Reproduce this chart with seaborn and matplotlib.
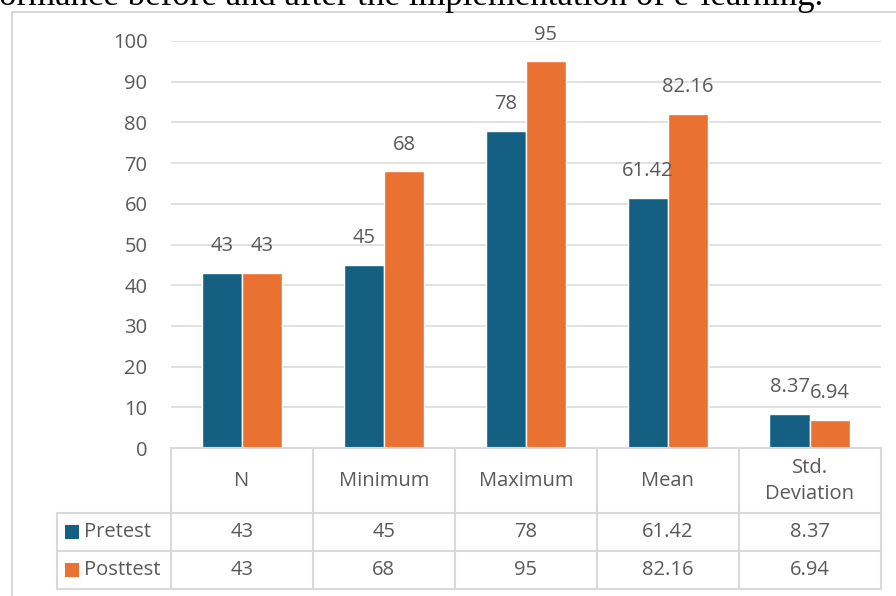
import pandas as pd
import seaborn as sns
import matplotlib.pyplot as plt
from matplotlib.patches import Rectangle
from matplotlib.transforms import blended_transform_factory

# Data
stats = ["N", "Minimum", "Maximum", "Mean", "Std.\nDeviation"]
pretest = [43, 45, 78, 61.42, 8.37]
posttest = [43, 68, 95, 82.16, 6.94]
groups = ["Pretest", "Posttest"]
colors = ["#156082", "#E97132"]
title = "performance before and after the implementation of e-learning."

df = pd.DataFrame({
    "stat": stats * 2,
    "value": pretest + posttest,
    "group": [groups[0]] * len(stats) + [groups[1]] * len(stats),
})

sns.set_style("white")
plt.rcParams["font.family"] = ["Open Sans", "DejaVu Sans"]
TXT = "#595959"
LINE = "#D9D9D9"
FS = 14.5

W, H = 896, 596
fig = plt.figure(figsize=(W / 100, H / 100), dpi=100)


def fx(px):
    return px / W


def fy(py):
    return 1 - py / H


# Main plot area (pixel positions of the reference)
ax = fig.add_axes([fx(171), fy(448), fx(880.5) - fx(171), fy(41) - fy(448)])
sns.barplot(data=df, x="stat", y="value", hue="group", palette=colors,
            width=0.565, gap=0, saturation=1, legend=False, ax=ax)

ax.set_ylim(0, 100)
ax.set_xlim(-0.5, len(stats) - 0.5)
ax.set_yticks(range(0, 101, 10))
ax.yaxis.grid(True, color=LINE, linewidth=1.1)
ax.set_axisbelow(True)
sns.despine(ax=ax, left=True, bottom=True)
ax.tick_params(axis="y", length=0, pad=17, labelsize=FS, labelcolor=TXT)
ax.tick_params(axis="x", bottom=False, labelbottom=False)
ax.set_xlabel("")
ax.set_ylabel("")

# Bar labels
for cont, vals in zip(ax.containers, [pretest, posttest]):
    ax.bar_label(cont, labels=[f"{v:g}" for v in vals], padding=12,
                 fontsize=FS, color=TXT, clip_on=False)

# Data table under the chart
tr = blended_transform_factory(ax.transData, fig.transFigure)
n = len(stats)
left_edge, right_edge = -0.5, n - 0.5
y_top, y_head, y_mid, y_bot = 448, 513, 551, 589
lw = 1.5

ax.plot([left_edge, right_edge], [fy(y_top)] * 2, color=LINE, lw=lw,
        transform=tr, clip_on=False)
for i in range(n + 1):
    ax.plot([i - 0.5] * 2, [fy(y_top), fy(y_bot)], color=LINE, lw=lw,
            transform=tr, clip_on=False)
for yy in [y_head, y_mid, y_bot]:
    fig.add_artist(plt.Line2D([fx(57), fx(171)], [fy(yy)] * 2, color=LINE, lw=lw))
    ax.plot([left_edge, right_edge], [fy(yy)] * 2, color=LINE, lw=lw,
            transform=tr, clip_on=False)
fig.add_artist(plt.Line2D([fx(57)] * 2, [fy(y_head), fy(y_bot)], color=LINE, lw=lw))

for i, s in enumerate(stats):
    ax.text(i, fy(481), s, ha="center", va="center", fontsize=FS, color=TXT,
            linespacing=1.45, transform=tr)
    ax.text(i, fy(532), f"{pretest[i]:g}", ha="center", va="center",
            fontsize=FS, color=TXT, transform=tr)
    ax.text(i, fy(570), f"{posttest[i]:g}", ha="center", va="center",
            fontsize=FS, color=TXT, transform=tr)

# Legend keys inside the table
for g, c, yc in zip(groups, colors, [532, 570]):
    fig.add_artist(Rectangle((fx(65), fy(yc + 7)), fx(14), 14 / H,
                             facecolor=c, edgecolor="none"))
    fig.text(fx(84), fy(yc), g, ha="left", va="center", fontsize=FS, color=TXT)

# Outer chart frame
fig.add_artist(plt.Line2D([fx(12), fx(12)], [fy(12), 0], color=LINE, lw=lw))
fig.add_artist(plt.Line2D([fx(12), 1], [fy(12), fy(12)], color=LINE, lw=lw))

# Caption above the chart, cut off by the picture edge as in the source
fig.text(fx(823), fy(4.7), title, ha="right", va="baseline", fontsize=25,
         family=["Liberation Serif", "DejaVu Serif"], color="black")

fig.savefig("out.png", dpi=100)
